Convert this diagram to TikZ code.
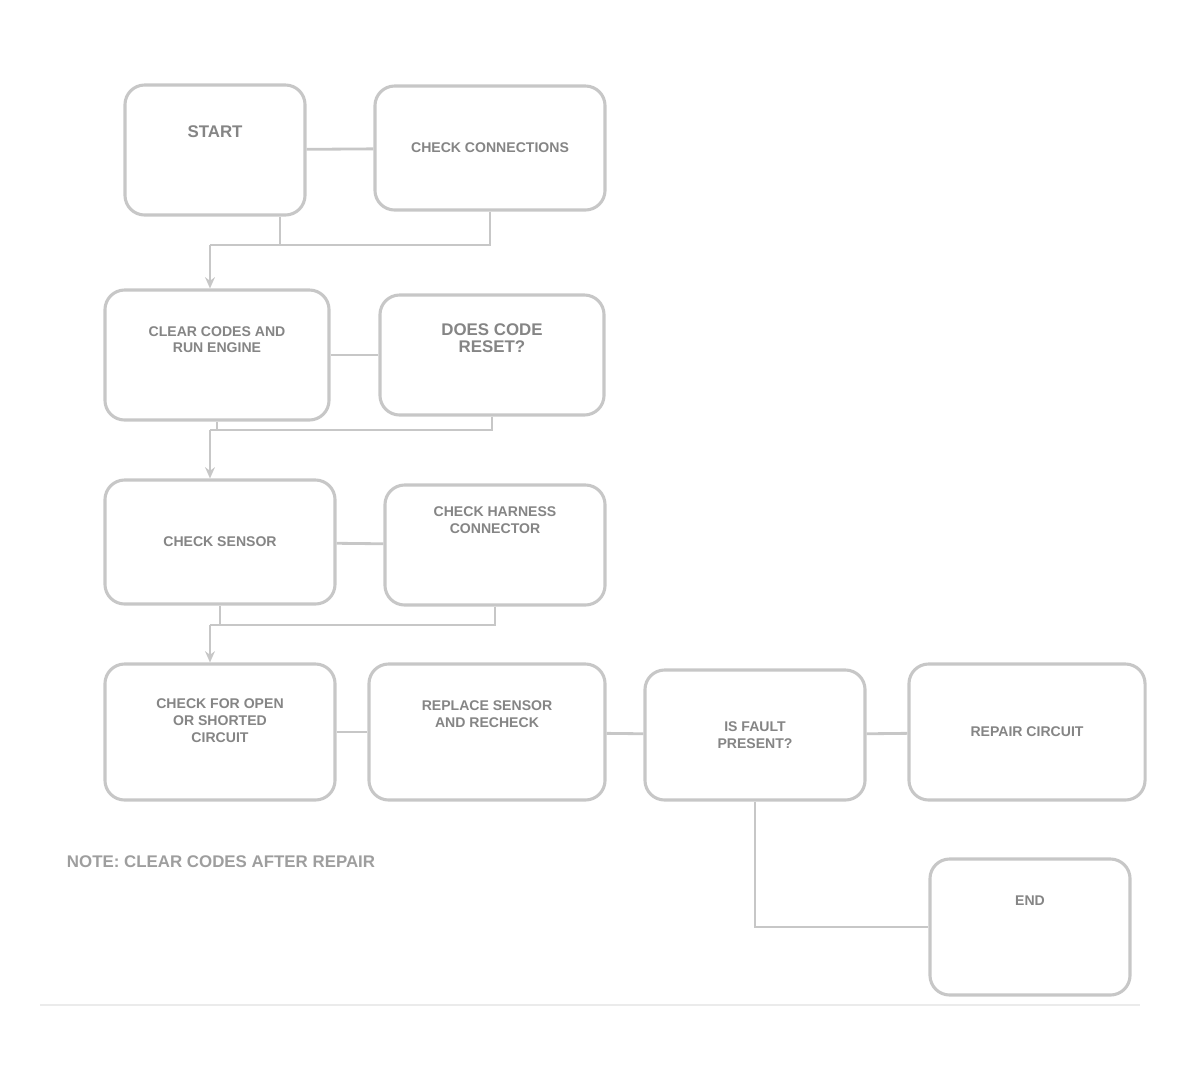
\documentclass[tikz,border=0pt]{standalone}
\usepackage{fontspec}
\setmainfont{Liberation Sans}
\usetikzlibrary{arrows.meta}
\begin{document}
\begin{tikzpicture}[x=0.025cm,y=-0.025cm,
  box/.style={draw=black!22,line width=2.2pt,rounded corners=14pt,fill=white,align=center,
    font=\bfseries\normalsize,text=black!48,inner sep=4pt},
  link/.style={draw=black!22,line width=2pt},
  arr/.style={link,-{Stealth[length=8pt,width=7pt]}}]
\useasboundingbox (0,0) rectangle (1189,1081);
\node[box,minimum width=4.5cm,minimum height=3.25cm] (A) at (215,150) {\large START\\[14pt]~};
\node[box,minimum width=5.75cm,minimum height=3.1cm] (B) at (490,148) {CHECK CONNECTIONS};
\node[box,minimum width=5.6cm,minimum height=3.25cm] (C) at (217,355) {CLEAR CODES AND\\RUN ENGINE\\[10pt]~};
\node[box,minimum width=5.6cm,minimum height=3cm] (D) at (492,355) {\large DOES CODE\\\large RESET?\\[12pt]~};
\node[box,minimum width=5.75cm,minimum height=3.1cm] (E) at (220,542) {CHECK SENSOR};
\node[box,minimum width=5.5cm,minimum height=3cm] (F) at (495,545) {CHECK HARNESS\\CONNECTOR\\[24pt]~};
\node[box,minimum width=5.75cm,minimum height=3.4cm] (G) at (220,732) {CHECK FOR OPEN\\OR SHORTED\\CIRCUIT\\[4pt]~};
\node[box,minimum width=5.9cm,minimum height=3.4cm] (H) at (487,732) {REPLACE SENSOR\\AND RECHECK\\[14pt]~};
\node[box,minimum width=5.5cm,minimum height=3.25cm] (I) at (755,735) {IS FAULT\\PRESENT?};
\node[box,minimum width=5.9cm,minimum height=3.4cm] (J) at (1027,732) {REPAIR CIRCUIT};
\node[box,minimum width=5cm,minimum height=3.4cm] (K) at (1030,927) {END\\[26pt]~};
\node[font=\bfseries\large,text=black!38,anchor=west] (N) at (62,862) {NOTE: CLEAR CODES AFTER REPAIR};
\coordinate (j1) at (210,245);
\coordinate (j2) at (210,430);
\coordinate (j3) at (210,625);
\coordinate (k1) at (I.south |- K.west);
% row connectors
\draw[link] (A) -- (B);
\draw[link] (C) -- (D);
\draw[link] (E) -- (F);
\draw[link] (G) -- (H);
\draw[link] (H) -- (I);
\draw[link] (I) -- (J);
% down connectors
\draw[link] ([xshift=65*0.025cm]A.south) |- (j1);
\draw[link] (B.south) |- (j1);
\draw[arr] (j1) -- (j1 |- C.north);
\draw[link] (C.south) |- (j2);
\draw[link] (D.south) |- (j2);
\draw[arr] (j2) -- (j2 |- E.north);
\draw[link] (E.south) |- (j3);
\draw[link] (F.south) |- (j3);
\draw[arr] (j3) -- (j3 |- G.north);
\draw[link] (I.south) -- (k1) -- (K.west);
\draw[draw=black!8,line width=1.5pt] (40,1005) -- (1140,1005);
\end{tikzpicture}
\end{document}
